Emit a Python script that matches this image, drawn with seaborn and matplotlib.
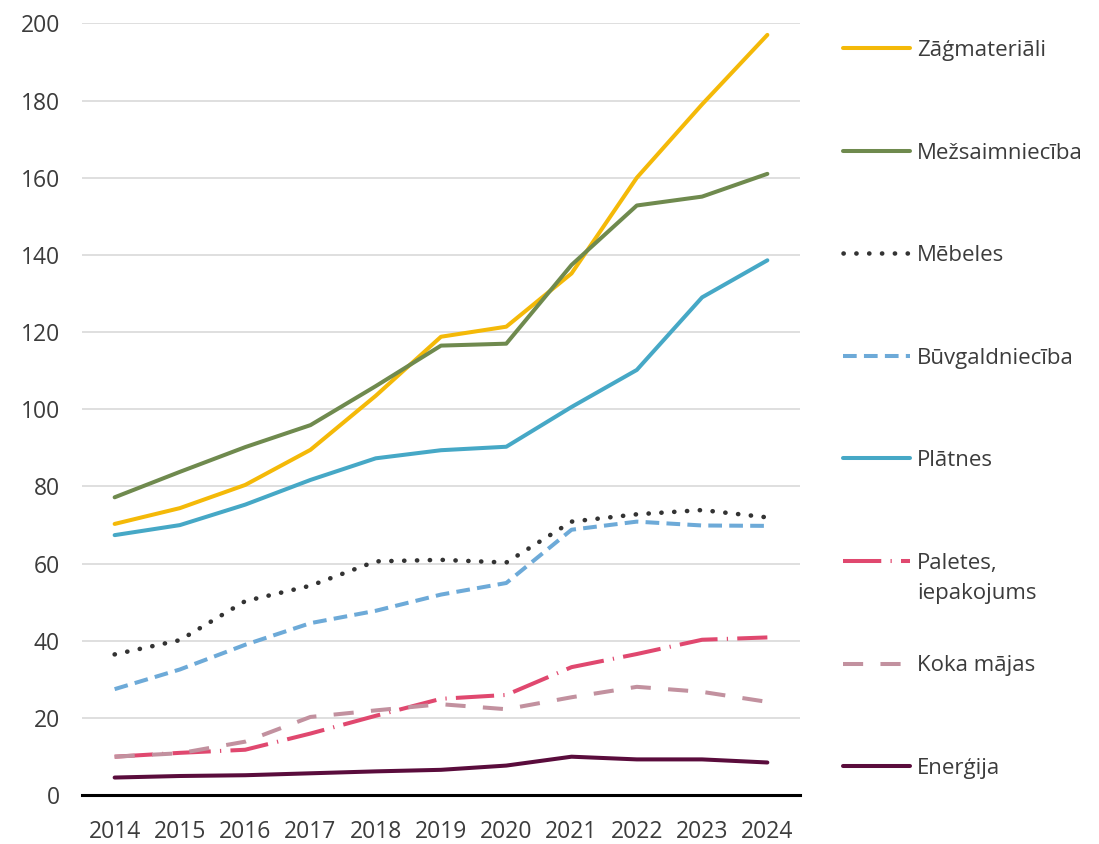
import numpy as np
import pandas as pd
import matplotlib
matplotlib.use("Agg")
import matplotlib.pyplot as plt
import seaborn as sns

years = [2014, 2015, 2016, 2017, 2018, 2019, 2020, 2021, 2022, 2023, 2024]

zagmateriali = [70.3, 74.4, 80.4, 89.5, 103.5, 118.8, 121.4, 135.2, 160.0, 179.0, 197.0]
mezsaimnieciba = [77.2, 83.8, 90.2, 95.9, 106.0, 116.5, 117.0, 137.4, 152.8, 155.1, 161.0]
mebeles = [36.5, 40.2, 50.3, 54.3, 60.6, 61.0, 60.3, 70.9, 72.8, 73.9, 72.0]
buvgaldnieciba = [27.5, 32.6, 39.0, 44.6, 47.8, 52.0, 55.0, 68.8, 70.9, 69.9, 69.8]
platnes = [67.4, 70.0, 75.3, 81.7, 87.3, 89.4, 90.3, 100.6, 110.2, 129.0, 138.6]
paletes = [10.0, 11.0, 11.8, 16.0, 20.6, 25.0, 26.0, 33.2, 36.6, 40.3, 40.9]
koka_majas = [10.0, 10.9, 13.9, 20.3, 22.0, 23.6, 22.3, 25.4, 28.1, 26.8, 24.2]
energija = [4.6, 5.0, 5.2, 5.7, 6.2, 6.6, 7.7, 10.0, 9.3, 9.3, 8.5]

labels = ["Zāģmateriāli", "Mežsaimniecība", "Mēbeles", "Būvgaldniecība",
          "Plātnes", "Paletes,", "Koka mājas", "Enerģija"]
series = [zagmateriali, mezsaimnieciba, mebeles, buvgaldnieciba,
          platnes, paletes, koka_majas, energija]
colors = ["#F4B908", "#6F8A4E", "#333333", "#6DAAD8",
          "#46A8C6", "#E0486F", "#C2919F", "#5A0C3C"]
styles = ["-", "-", (0, (0.05, 2.75)), (0, (3.4, 1.8)),
          "-", (0, (9.5, 2.3, 0.3, 2.3)), (0, (5.0, 4.3)), "-"]
caps = ["butt", "butt", "round", "butt", "butt", "butt", "butt", "butt"]
widths = [2.9, 2.9, 3.3, 2.9, 2.9, 2.9, 2.9, 2.9]

sns.set_theme(style="white")
plt.rcParams["font.family"] = ["Open Sans", "DejaVu Sans"]
text_color = "#3C3C3C"

fig = plt.figure(figsize=(10.99, 8.44), dpi=100)
ax = fig.add_axes([82 / 1099, (844 - 795.3) / 844, (800 - 82) / 1099, (795.3 - 23.3) / 844])

draw_order = [0, 1, 4, 2, 3, 5, 6, 7]
for i in draw_order:
    df = pd.DataFrame({"year": years, "value": series[i]})
    sns.lineplot(data=df, x="year", y="value", ax=ax, color=colors[i],
                 linestyle=styles[i], linewidth=widths[i], dash_capstyle=caps[i],
                 solid_capstyle="round", label=labels[i], legend=False)

lines = ax.get_lines()
order_map = {lab: ln for ln, lab in zip(lines, [labels[i] for i in draw_order])}
handles = [order_map[l] for l in labels]

ax.set_xlim(2013.5, 2024.5)
ax.set_ylim(0, 200)
ax.set_xticks(years)
ax.set_xticklabels([str(y) for y in years])
ax.set_yticks(np.arange(0, 201, 20))
ax.set_xlabel("")
ax.set_ylabel("")
ax.grid(axis="y", color="#D9D9D9", linewidth=1.2)
ax.grid(axis="x", visible=False)
ax.set_axisbelow(True)
for s in ["left", "right", "top"]:
    ax.spines[s].set_visible(False)
ax.spines["bottom"].set_color("black")
ax.spines["bottom"].set_linewidth(2.2)
ax.spines["bottom"].set_zorder(5)
ax.tick_params(axis="both", length=0, labelsize=16.5, labelcolor=text_color)
ax.tick_params(axis="y", pad=16)
ax.tick_params(axis="x", pad=17.5)

leg = ax.legend(handles, labels, loc="upper left",
                bbox_to_anchor=(843 / 1099, 1 - 40 / 844),
                bbox_transform=fig.transFigure, frameon=False,
                handlelength=3.0, handletextpad=0.32, labelspacing=3.67,
                borderpad=0, borderaxespad=0, fontsize=16)
for t in leg.get_texts():
    t.set_color(text_color)

pal_text = leg.get_texts()[5]
ax.annotate("iepakojums", xy=(0, 0), xycoords=pal_text, xytext=(0, -7),
            textcoords="offset points", va="top", ha="left", fontsize=16,
            color=text_color, zorder=10, annotation_clip=False)

fig.canvas.draw()
fig.savefig("out.png", dpi=100)
